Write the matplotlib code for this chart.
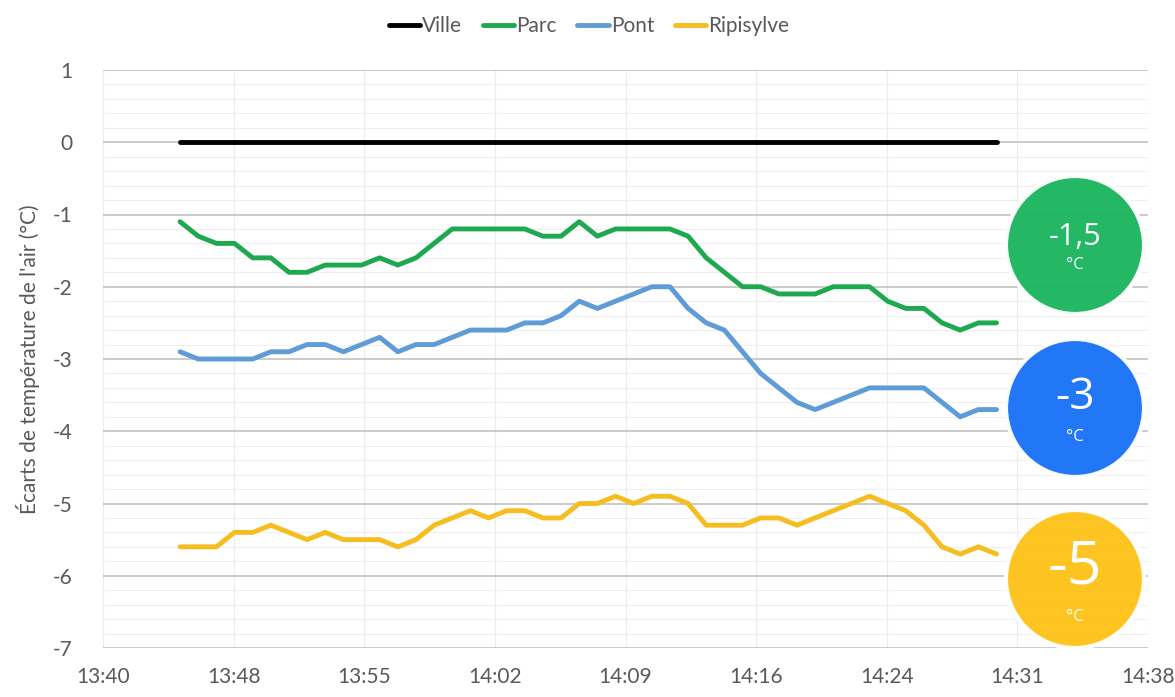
import matplotlib
matplotlib.use("Agg")
import matplotlib.pyplot as plt
from matplotlib.patches import Circle
from matplotlib.ticker import MultipleLocator
import numpy as np

plt.rcParams["font.family"] = ["Lato", "DejaVu Sans"]
plt.rcParams["axes.unicode_minus"] = False

# ── données (écart à la ville, °C), une mesure par minute à partir de ~13:44 ──
start_min = 4.25          # minutes après 13:40
ville = [0.0] * 46
parc = [-1.1, -1.3, -1.4, -1.4, -1.6, -1.6, -1.8, -1.8, -1.7, -1.7,
        -1.7, -1.6, -1.7, -1.6, -1.4, -1.2, -1.2, -1.2, -1.2, -1.2,
        -1.3, -1.3, -1.1, -1.3, -1.2, -1.2, -1.2, -1.2, -1.3, -1.6,
        -1.8, -2.0, -2.0, -2.1, -2.1, -2.1, -2.0, -2.0, -2.0, -2.2,
        -2.3, -2.3, -2.5, -2.6, -2.5, -2.5]
pont = [-2.9, -3.0, -3.0, -3.0, -3.0, -2.9, -2.9, -2.8, -2.8, -2.9,
        -2.8, -2.7, -2.9, -2.8, -2.8, -2.7, -2.6, -2.6, -2.6, -2.5,
        -2.5, -2.4, -2.2, -2.3, -2.2, -2.1, -2.0, -2.0, -2.3, -2.5,
        -2.6, -2.9, -3.2, -3.4, -3.6, -3.7, -3.6, -3.5, -3.4, -3.4,
        -3.4, -3.4, -3.6, -3.8, -3.7, -3.7]
ripisylve = [-5.6, -5.6, -5.6, -5.4, -5.4, -5.3, -5.4, -5.5, -5.4, -5.5,
             -5.5, -5.5, -5.6, -5.5, -5.3, -5.2, -5.1, -5.2, -5.1, -5.1,
             -5.2, -5.2, -5.0, -5.0, -4.9, -5.0, -4.9, -4.9, -5.0, -5.3,
             -5.3, -5.3, -5.2, -5.2, -5.3, -5.2, -5.1, -5.0, -4.9, -5.0,
             -5.1, -5.3, -5.6, -5.7, -5.6, -5.7]
tick_labels = ["13:40", "13:48", "13:55", "14:02", "14:09", "14:16", "14:24", "14:31", "14:38"]

# moyennes affichées dans les pastilles
badge_values = ["-1,5", "-3", "-5"]
badge_colors = ["#1db55f", "#1a73f7", "#fdc21a"]

COLORS = {
    "ville": "#000000",
    "parc": "#1ea84f",
    "pont": "#5f9bd6",
    "ripisylve": "#f5bd20",
    "text": "#595959",
}

t = start_min + np.arange(len(parc))

fig = plt.figure(figsize=(11.75, 6.97), dpi=100)
ax = fig.add_axes([103 / 1175, 49 / 697, 1045 / 1175, 578 / 697])

ax.plot(t, ville, color=COLORS["ville"], lw=3.5, label="Ville", solid_capstyle="round")
ax.plot(t, parc, color=COLORS["parc"], lw=3.5, label="Parc", solid_capstyle="round")
ax.plot(t, pont, color=COLORS["pont"], lw=3.5, label="Pont", solid_capstyle="round")
ax.plot(t, ripisylve, color=COLORS["ripisylve"], lw=3.5, label="Ripisylve", solid_capstyle="round")

ax.set_xlim(0, 57.6)
ax.set_ylim(-7, 1)
ax.set_xticks(np.arange(len(tick_labels)) * 7.2)
ax.set_xticklabels(tick_labels)
ax.yaxis.set_major_locator(MultipleLocator(1))
ax.yaxis.set_minor_locator(MultipleLocator(0.2))
ax.grid(axis="y", which="major", color="#bdbdbd", lw=1.1)
ax.grid(axis="y", which="minor", color="#efefef", lw=0.8)
ax.grid(axis="x", which="major", color="#ececec", lw=0.8)
ax.set_axisbelow(True)
for s in ax.spines.values():
    s.set_visible(False)
ax.tick_params(which="both", length=0, labelsize=15, colors=COLORS["text"])
ax.tick_params(axis="y", pad=22)
ax.tick_params(axis="x", pad=14)
ax.set_ylabel("Écarts de température de l'air (°C)", fontsize=15, color=COLORS["text"], labelpad=9)

ax.legend(loc="upper center", bbox_to_anchor=(0.465, 1.125), ncol=4, frameon=False,
          fontsize=15, handlelength=1.5, handletextpad=0.1, columnspacing=1.0,
          labelcolor=COLORS["text"])

# pastilles de droite (coordonnées en pixels de la figure)
centers_y = [245, 408, 579]
val_y = [237, 398, 567]
unit_y = [265, 437, 617]
val_size = [22, 32, 44]
for cy, vy, uy, vs, val, col in zip(centers_y, val_y, unit_y, val_size, badge_values, badge_colors):
    c = Circle((10.75, (697 - cy) / 100), 0.69, transform=fig.dpi_scale_trans,
               facecolor=col, edgecolor="white", lw=3, alpha=0.97, zorder=5)
    fig.patches.append(c)
    fig.text(1075 / 1175, (697 - vy) / 697, val, ha="center", va="center", color="white",
             fontsize=vs, family=["Open Sans", "DejaVu Sans"], zorder=6)
    fig.text(1075 / 1175, (697 - uy) / 697, "°C", ha="center", va="center", color="white",
             fontsize=12, family=["Open Sans", "DejaVu Sans"], zorder=6)

fig.savefig("out.png", dpi=100, facecolor="#ffffff")
